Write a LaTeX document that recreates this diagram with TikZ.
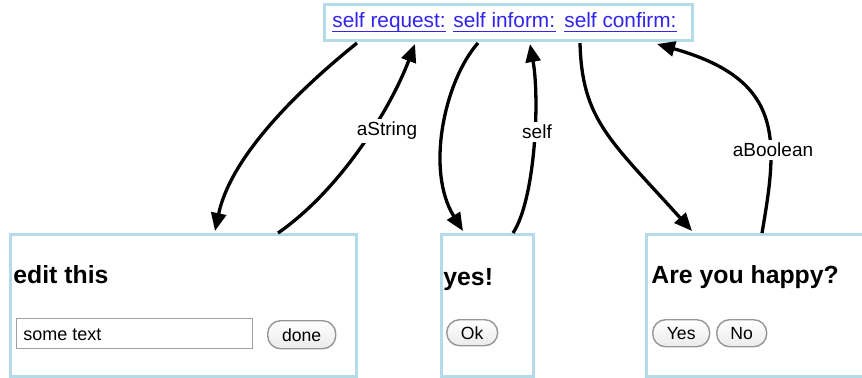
\documentclass[tikz,border=0pt]{standalone}
\usepackage{fontspec}
\setmainfont{Liberation Sans}
\usetikzlibrary{arrows.meta,calc}
\definecolor{boxblue}{RGB}{182,219,232}
\definecolor{linkblue}{RGB}{50,36,236}
\definecolor{fieldgray}{RGB}{160,160,160}
\definecolor{btngray}{RGB}{150,150,150}
\tikzset{
  panel/.style={draw=boxblue, line width=1.5pt, fill=white, anchor=north west, inner sep=0pt},
  link/.style={anchor=base west, inner sep=0pt, text=linkblue, font=\fontsize{10.4pt}{12pt}\selectfont},
  uline/.style={draw=linkblue, line width=0.55pt},
  heading/.style={anchor=base west, inner sep=0pt, font=\fontsize{12.4pt}{14pt}\selectfont\bfseries},
  field/.style={draw=fieldgray, line width=0.6pt, fill=white, anchor=north west, inner sep=0pt},
  btn/.style={draw=btngray, line width=0.7pt, rounded corners=6.5pt, top color=white, bottom color=black!8, anchor=north west, inner sep=0pt, font=\fontsize{8.8pt}{10pt}\selectfont},
  flow/.style={line width=1.65pt, -{Triangle[length=9pt,width=7.5pt]}},
  lbl/.style={fill=white, inner sep=1.5pt, font=\fontsize{9.5pt}{11pt}\selectfont}
}
\begin{document}
\begin{tikzpicture}[x=0.5pt,y=-0.5pt]
\useasboundingbox (0,0) rectangle (862,377);
\clip (0,0) rectangle (862,377);
% panels
\node[panel, minimum width=184pt, minimum height=18pt] (tb) at (323,3) {};
\node[link] (l1) at (332,27) {self request:};
\node[link] (l2) at (453,27) {self inform:};
\node[link] (l3) at (564,27) {self confirm:};
\foreach \n in {l1,l2,l3}
  \draw[uline] ([yshift=-2.2pt]\n.base west) -- ([yshift=-2.2pt]\n.base east);

\node[panel, minimum width=173pt, minimum height=71pt] (lb) at (9,233) {};
\node[heading] (h1) at (13,283) {edit this};
\node[field, minimum width=118pt, minimum height=15pt] (fld) at (16,318) {};
\node[anchor=base west, inner sep=0pt, font=\fontsize{9pt}{10pt}\selectfont] (ft) at (23,340) {some text};
\node[btn, minimum width=34pt, minimum height=14pt] (done) at (267,320) {done};

\node[panel, minimum width=46pt, minimum height=71pt] (mb) at (440,233) {};
\node[heading] (h2) at (443,285) {yes!};
\node[btn, minimum width=25.5pt, minimum height=13pt] (ok) at (446,319) {Ok};

\node[panel, minimum width=115pt, minimum height=71pt] (rb) at (645,233) {};
\node[heading] (h3) at (651,283) {Are you happy?};
\node[btn, minimum width=28.5pt, minimum height=13.5pt] (yes) at (652,319) {Yes};
\node[btn, minimum width=25pt, minimum height=13.5pt] (no) at (716,319) {No};

% connectors
\draw[flow] ($(tb.south west)+(34,1)$) .. controls (290,97) and (230,160) .. ($(lb.north west)+(206,-2)$);
\draw[flow] ($(lb.north west)+(269,0)$) .. controls (340,190) and (390,110) .. ($(tb.south west)+(92,2)$);
\draw[flow] ($(tb.south west)+(155,1)$) .. controls (445,80) and (425,170) .. ($(mb.north west)+(23,-2)$);
\draw[flow] ($(mb.north west)+(73,0)$) .. controls (535,200) and (540,100) .. ($(tb.south west)+(207,2)$);
\draw[flow] ($(tb.south west)+(257,1)$) .. controls (582,120) and (610,140) .. ($(rb.north west)+(47,-2)$);
\draw[flow] ($(rb.north west)+(117,0)$) .. controls (778,140) and (785,80) .. ($(tb.south west)+(334,2)$);

% labels
\node[lbl] (la) at (387,131) {aString};
\node[lbl] (ls) at (537,132) {self};
\node[lbl] (lbo) at (773,150) {aBoolean};
\end{tikzpicture}
\end{document}
